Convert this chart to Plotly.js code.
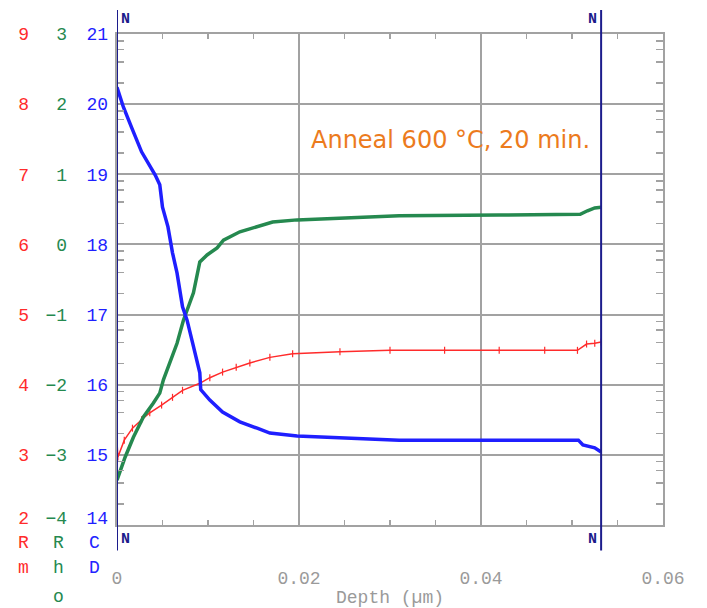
<!DOCTYPE html>
<html>
<head>
<meta charset="utf-8">
<script src="https://cdn.plot.ly/plotly-3.0.1.min.js"></script>
<style>html,body{margin:0;padding:0;background:#fff;}#chart{width:707px;height:608px;}</style>
</head>
<body>
<div id="chart"></div>
<script>
// ---- data (depth in µm) ----
const rmDepth = [0, 0.0001, 0.0008, 0.0017, 0.0027, 0.0036, 0.0049, 0.0061, 0.0072, 0.0091, 0.0102, 0.0116, 0.0131, 0.0146, 0.0168, 0.0193, 0.0245, 0.0300, 0.0360, 0.0420, 0.0470, 0.0506, 0.0516, 0.0525, 0.0532];
const rmValue = [3.18, 2.97, 3.21, 3.38, 3.50, 3.60, 3.71, 3.82, 3.92, 4.02, 4.10, 4.18, 4.25, 4.31, 4.39, 4.44, 4.47, 4.49, 4.49, 4.49, 4.49, 4.49, 4.58, 4.59, 4.61];

const rhoDepth = [0, 0.0009, 0.0018, 0.0029, 0.0040, 0.0047, 0.0051, 0.0058, 0.0066, 0.0073, 0.0084, 0.0091, 0.0099, 0.0110, 0.0117, 0.0135, 0.0154, 0.0171, 0.0198, 0.0245, 0.0310, 0.0420, 0.0480, 0.0509, 0.0517, 0.0525, 0.0532];
const rhoValue = [-3.36, -3.03, -2.75, -2.46, -2.26, -2.12, -1.93, -1.69, -1.41, -1.08, -0.69, -0.25, -0.15, -0.05, 0.06, 0.18, 0.25, 0.32, 0.35, 0.38, 0.41, 0.42, 0.43, 0.43, 0.48, 0.52, 0.53];

const cdDepth = [0, 0.0007, 0.0016, 0.0027, 0.0042, 0.0047, 0.0050, 0.0056, 0.0061, 0.0066, 0.0072, 0.0077, 0.0083, 0.0091, 0.0092, 0.0102, 0.0116, 0.0135, 0.0154, 0.0168, 0.0198, 0.0245, 0.0310, 0.0420, 0.0507, 0.0512, 0.0525, 0.0532];
const cdValue = [20.24, 19.96, 19.67, 19.32, 18.99, 18.85, 18.53, 18.25, 17.88, 17.59, 17.11, 16.92, 16.60, 16.17, 15.93, 15.78, 15.61, 15.47, 15.38, 15.31, 15.27, 15.24, 15.21, 15.21, 15.21, 15.14, 15.10, 15.04];

const xTickVals = [0, 0.02, 0.04, 0.06];
const xTickText = ['0', '0.02', '0.04', '0.06'];
const rmTicks = [2, 3, 4, 5, 6, 7, 8, 9];
const rhoTicks = [-4, -3, -2, -1, 0, 1, 2, 3];
const cdTicks = [14, 15, 16, 17, 18, 19, 20, 21];
const axisNames = [
  {letters: ['R', 'm'], color: '#ff2b2b', x: -0.172},
  {letters: ['R', 'h', 'o'], color: '#25894f', x: -0.108},
  {letters: ['C', 'D'], color: '#2323ff', x: -0.042}
];
const note = 'Anneal 600 °C, 20 min.';
const xTitle = 'Depth (µm)';

// ---- styling ----
const RED = '#ff2b2b', GREEN = '#25894f', BLUE = '#1f1fff', NAVY = '#1c1c8c', GRID = '#a2a2a2';
const MONO = 'Liberation Mono, DejaVu Sans Mono, monospace';

// log minor tick positions for the concentration scale (2,4,6,8 in each decade)
const minorVals = [];
for (let d = cdTicks[0]; d < cdTicks[cdTicks.length - 1]; d++) {
  [2, 4, 6, 8].forEach(k => minorVals.push(d + Math.log10(k)));
}
const xEnd = cdDepth[cdDepth.length - 1];

const traces = [
  {x: rmDepth, y: rmValue, yaxis: 'y', mode: 'lines+markers', line: {color: RED, width: 1.5},
   marker: {symbol: 'line-ns-open', size: 5, color: RED, line: {color: RED, width: 1.2}}, hoverinfo: 'skip'},
  {x: rhoDepth, y: rhoValue, yaxis: 'y2', mode: 'lines', line: {color: GREEN, width: 3.5}, hoverinfo: 'skip'},
  {x: cdDepth, y: cdValue, yaxis: 'y3', mode: 'lines', line: {color: BLUE, width: 3.5}, hoverinfo: 'skip'}
];
// empty helper traces so that the tick-only axes are drawn
['y4', 'y5', 'y6', 'y7'].forEach(a => traces.push({x: [null], y: [null], yaxis: a, mode: 'lines', hoverinfo: 'skip'}));

const baseY = {fixedrange: true, zeroline: false, showline: false, ticks: '', side: 'left', anchor: 'x', showgrid: false};
const last = a => a[a.length - 1];

const annotations = [
  {xref: 'paper', yref: 'paper', x: 0.61, y: 0.784, text: note, showarrow: false,
   font: {family: 'DejaVu Sans, Verdana, sans-serif', size: 24, color: '#ec7b1d'}, xanchor: 'center', yanchor: 'middle'},
  {xref: 'x', yref: 'paper', x: 0, y: 1.03, text: '<b>N</b>', showarrow: false, xanchor: 'left', xshift: 2, yanchor: 'middle', font: {family: MONO, size: 15, color: NAVY}},
  {xref: 'x', yref: 'paper', x: xEnd, y: 1.03, text: '<b>N</b>', showarrow: false, xanchor: 'right', xshift: -2, yanchor: 'middle', font: {family: MONO, size: 15, color: NAVY}},
  {xref: 'x', yref: 'paper', x: 0, y: -0.03, text: '<b>N</b>', showarrow: false, xanchor: 'left', xshift: 2, yanchor: 'middle', font: {family: MONO, size: 15, color: NAVY}},
  {xref: 'x', yref: 'paper', x: xEnd, y: -0.03, text: '<b>N</b>', showarrow: false, xanchor: 'right', xshift: -2, yanchor: 'middle', font: {family: MONO, size: 15, color: NAVY}}
];
const letterY = [-0.037, -0.088, -0.146];
axisNames.forEach(a => {
  a.letters.forEach((ch, i) => annotations.push({
    xref: 'paper', yref: 'paper', x: a.x, y: letterY[i], text: ch, showarrow: false,
    xanchor: 'center', yanchor: 'middle', font: {family: MONO, size: 18, color: a.color}
  }));
});

const SO_RED = 87, SO_GREEN = 49, SO_BLUE = 8, BOTTOM_SHIFT = -7;

const layout = {
  width: 707, height: 608,
  margin: {l: 117, r: 44, t: 34, b: 83},
  paper_bgcolor: '#ffffff', plot_bgcolor: '#ffffff',
  showlegend: false,
  xaxis: {
    range: [0, 0.06], fixedrange: true, zeroline: false,
    tickvals: xTickVals, ticktext: xTickText,
    ticks: 'inside', ticklen: 0, tickcolor: GRID,
    minor: {dtick: 0.005, tick0: 0, ticks: 'inside', ticklen: 5, tickcolor: GRID, tickwidth: 1.5, showgrid: false},
    showline: true, linecolor: GRID, linewidth: 2, mirror: 'ticks',
    showgrid: true, gridcolor: GRID, gridwidth: 2,
    ticklabelstandoff: 35,
    tickfont: {family: MONO, size: 18, color: '#9a9a9a'},
    title: {text: xTitle, font: {family: MONO, size: 18, color: '#9a9a9a'}, standoff: 4}
  },
  // upper tick labels (all but the bottom one)
  yaxis: Object.assign({}, baseY, {
    range: [rmTicks[0], last(rmTicks)], tickvals: rmTicks.slice(1),
    showgrid: true, gridcolor: GRID, gridwidth: 2,
    tickfont: {family: MONO, size: 18, color: RED}, ticklabelstandoff: SO_RED
  }),
  yaxis2: Object.assign({}, baseY, {
    overlaying: 'y', range: [rhoTicks[0], last(rhoTicks)], tickvals: rhoTicks.slice(1),
    tickfont: {family: MONO, size: 18, color: GREEN}, ticklabelstandoff: SO_GREEN
  }),
  yaxis3: Object.assign({}, baseY, {
    overlaying: 'y', range: [cdTicks[0], last(cdTicks)], tickvals: cdTicks.slice(1),
    tickfont: {family: MONO, size: 18, color: BLUE}, ticklabelstandoff: SO_BLUE
  }),
  // minor log ticks + right frame
  yaxis4: Object.assign({}, baseY, {
    overlaying: 'y', range: [cdTicks[0], last(cdTicks)], tickvals: minorVals,
    showticklabels: false, ticks: 'inside', ticklen: 7, tickwidth: 1.5, tickcolor: GRID,
    showline: true, linecolor: GRID, linewidth: 2, mirror: 'ticks'
  }),
  // bottom labels, nudged up like the reference
  yaxis5: Object.assign({}, baseY, {
    overlaying: 'y', range: [rmTicks[0], last(rmTicks)], tickvals: [rmTicks[0]],
    tickfont: {family: MONO, size: 18, color: RED}, ticklabelstandoff: SO_RED, ticklabelshift: BOTTOM_SHIFT
  }),
  yaxis6: Object.assign({}, baseY, {
    overlaying: 'y', range: [rhoTicks[0], last(rhoTicks)], tickvals: [rhoTicks[0]],
    tickfont: {family: MONO, size: 18, color: GREEN}, ticklabelstandoff: SO_GREEN, ticklabelshift: BOTTOM_SHIFT
  }),
  yaxis7: Object.assign({}, baseY, {
    overlaying: 'y', range: [cdTicks[0], last(cdTicks)], tickvals: [cdTicks[0]],
    tickfont: {family: MONO, size: 18, color: BLUE}, ticklabelstandoff: SO_BLUE, ticklabelshift: BOTTOM_SHIFT
  }),
  shapes: [
    {type: 'line', xref: 'x', yref: 'paper', x0: 0, x1: 0, y0: -0.052, y1: 1.049, line: {color: NAVY, width: 2}, layer: 'above'},
    {type: 'line', xref: 'x', yref: 'paper', x0: xEnd, x1: xEnd, y0: -0.052, y1: 1.049, line: {color: NAVY, width: 2}, layer: 'above'}
  ],
  annotations: annotations
};

Plotly.newPlot('chart', traces, layout, {staticPlot: true, displayModeBar: false});
</script>
</body>
</html>
